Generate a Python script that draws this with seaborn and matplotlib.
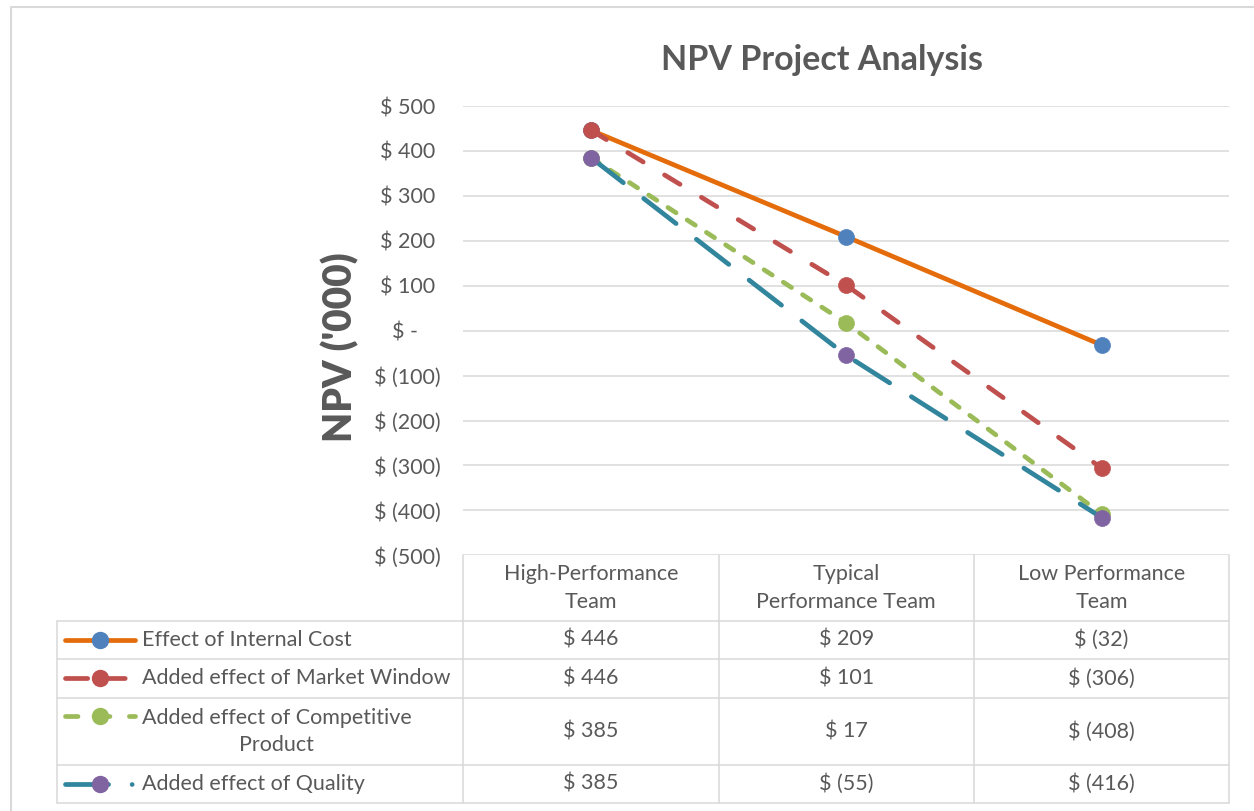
import numpy as np
import pandas as pd
import seaborn as sns
import matplotlib.pyplot as plt
from matplotlib.lines import Line2D
from matplotlib.ticker import FuncFormatter
from matplotlib.transforms import blended_transform_factory

# categories (data table columns)
teams = ["High-Performance\nTeam", "Typical\nPerformance Team", "Low Performance\nTeam"]

# series
series_names = ["Effect of Internal Cost",
                "Added effect of Market Window",
                "Added effect of Competitive\nProduct",
                "Added effect of Quality"]
internal_cost = [446, 209, -32]
market_window = [446, 101, -306]
competitive_product = [385, 17, -408]
quality = [385, -55, -416]
series_values = [internal_cost, market_window, competitive_product, quality]

y_ticks = [-500, -400, -300, -200, -100, 0, 100, 200, 300, 400, 500]

# styles
line_colors = ["#E46C0A", "#C0504D", "#9BBB59", "#31859C"]
marker_colors = ["#4F81BD", "#C0504D", "#9BBB59", "#8064A2"]
line_styles = ["-", (0, (13, 18)), (0, (7, 9.5)), (0, (29.5, 18.5))]
key_styles = ["-", (0, (16, 11)), (0, (9, 14)), (0, (31, 17, 0.01, 40))]
text_col = "#595959"
grid_col = "#D9D9D9"
fs = 15.5

df = pd.DataFrame({
    "team": teams * len(series_names),
    "series": np.repeat(series_names, len(teams)),
    "npv": np.concatenate(series_values),
})

sns.set_style("white")
plt.rcParams["font.family"] = ["Lato", "DejaVu Sans"]
plt.rcParams["lines.scale_dashes"] = False

W, H = 1254, 811
fig = plt.figure(figsize=(W / 100, H / 100), dpi=100)


def fx(x):
    return x / W


def fy(y):
    return 1 - y / H


ax = fig.add_axes([fx(463.3), fy(555.3), (1229.3 - 463.3) / W, (555.3 - 106) / H])

for i, name in enumerate(series_names):
    sub = df[df["series"] == name]
    sns.lineplot(data=sub, x="team", y="npv", sort=False, estimator=None, ax=ax,
                 color=line_colors[i], linewidth=3.4, linestyle=line_styles[i],
                 dash_capstyle="round", solid_capstyle="round",
                 marker="o", markersize=11.5, markerfacecolor=marker_colors[i],
                 markeredgecolor=marker_colors[i], markeredgewidth=0.5, legend=False)


def acct(v, pos=None):
    v = int(round(v))
    if v == 0:
        return "$ -    "
    if v < 0:
        return f"$ ({abs(v)})"
    return f"$ {v} "


ax.set_xlim(-0.5, len(teams) - 0.5)
ax.set_ylim(-500, 500)
ax.set_yticks(y_ticks)
ax.yaxis.set_major_formatter(FuncFormatter(acct))
ax.tick_params(axis="y", length=0, pad=16.5, labelsize=fs, labelcolor=text_col)
ax.tick_params(axis="x", bottom=False, labelbottom=False)
ax.set_xlabel("")
ax.set_ylabel("")
ax.grid(axis="y", color=grid_col, linewidth=1.1)
ax.grid(axis="x", visible=False)
for s in ax.spines.values():
    s.set_visible(False)

fig.text(fx(822), fy(60), "NPV Project Analysis", ha="center", va="center",
         fontsize=24.5, fontweight="bold", color=text_col)
fig.text(fx(340), fy(347), "NPV ('000)", ha="center", va="center", rotation=90,
         fontsize=28, fontweight="heavy", color=text_col)

# data table
tr = blended_transform_factory(ax.transData, fig.transFigure)
row_edges = [555.3, 620.7, 659, 697.7, 765, 802.7]
line_kw = dict(color=grid_col, linewidth=1.1)

for k in range(len(teams) + 1):
    fig.add_artist(Line2D([k - 0.5, k - 0.5], [fy(row_edges[0]), fy(row_edges[-1])],
                          transform=tr, **line_kw))
fig.add_artist(Line2D([fx(57), fx(57)], [fy(row_edges[1]), fy(row_edges[-1])], **line_kw))
for y in row_edges[1:]:
    fig.add_artist(Line2D([fx(57), fx(1229.3)], [fy(y), fy(y)], **line_kw))

hy = fy((row_edges[0] + row_edges[1]) / 2)
for k, t in enumerate(teams):
    fig.text(k, hy, t, transform=tr, ha="center", va="center", fontsize=fs,
             color=text_col, linespacing=1.45)

for i, name in enumerate(series_names):
    cy = fy((row_edges[i + 1] + row_edges[i + 2]) / 2)
    for k, v in enumerate(series_values[i]):
        fig.text(k, cy, acct(v).strip(), transform=tr, ha="center", va="center",
                 fontsize=fs, color=text_col)
    ky = cy if "\n" not in name else fy(row_edges[i + 1] + 18)
    fig.add_artist(Line2D([fx(65), fx(135)], [ky, ky], color=line_colors[i],
                          linewidth=3.4, linestyle=key_styles[i],
                          dash_capstyle="round", solid_capstyle="round"))
    fig.add_artist(Line2D([fx(100)], [ky], marker="o", markersize=11.5,
                          markerfacecolor=marker_colors[i],
                          markeredgecolor=marker_colors[i], linestyle="none"))
    if "\n" in name:
        fig.text(fx(142), cy, name, ha="left", va="center", fontsize=fs,
                 color=text_col, multialignment="center", linespacing=1.45)
    else:
        fig.text(fx(142), cy, name, ha="left", va="center", fontsize=fs, color=text_col)

# outer chart border
fig.add_artist(Line2D([fx(11), fx(11), fx(1254)], [fy(811), fy(7), fy(7)],
                      color=grid_col, linewidth=1.5))

fig.savefig("out.png", dpi=100, facecolor="white")
